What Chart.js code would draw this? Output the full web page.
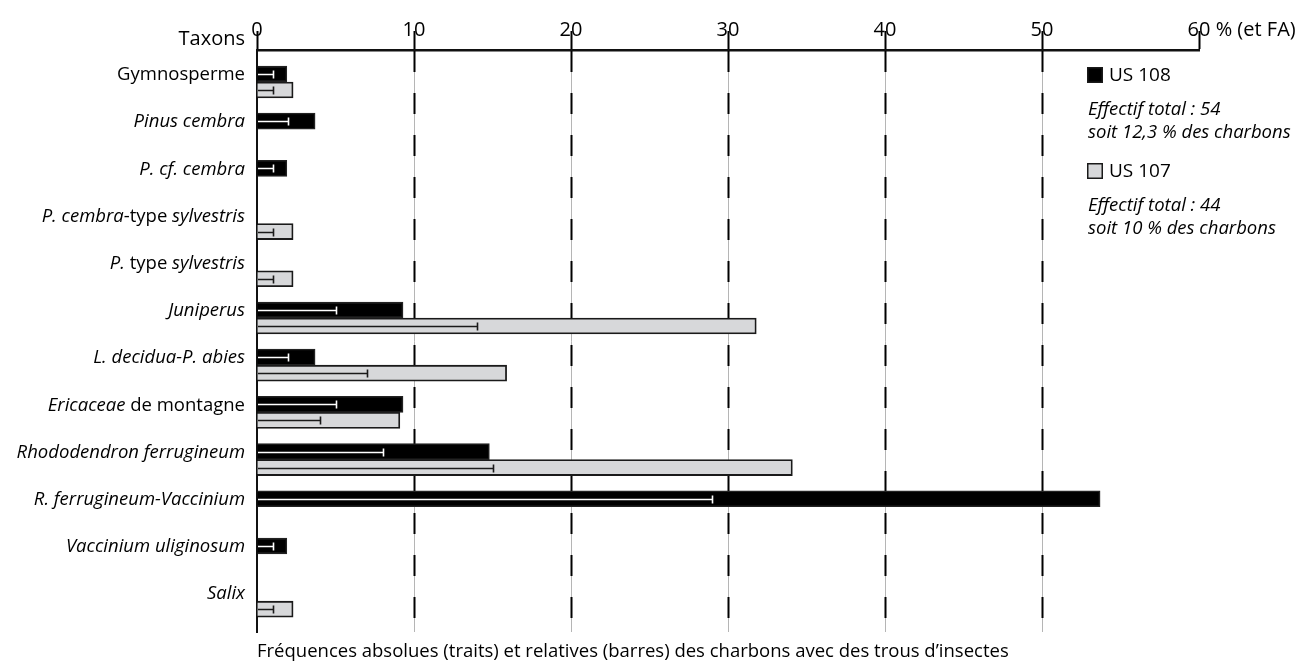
<!DOCTYPE html>
<html>
<head>
<meta charset="utf-8">
<script src="https://cdn.jsdelivr.net/npm/chart.js@4.4.1/dist/chart.umd.min.js"></script>
<style>
html,body{margin:0;padding:0;background:#fff;}
#wrap{width:1306px;height:666px;position:relative;}
</style>
</head>
<body>
<div id="wrap"><canvas id="chart"></canvas></div>
<script>
// ---- data ----
const categories = [
  'Gymnosperme',
  '_Pinus cembra_',
  '_P. cf. cembra_',
  '_P. cembra_-type _sylvestris_',
  '_P._ type _sylvestris_',
  '_Juniperus_',
  '_L. decidua-P. abies_',
  '_Ericaceae_ de montagne',
  '_Rhododendron ferrugineum_',
  '_R. ferrugineum-Vaccinium_',
  '_Vaccinium uliginosum_',
  '_Salix_'
];
const seriesNames = ['US 108', 'US 107'];
const seriesNotes = [
  ['Effectif total : 54', 'soit 12,3 % des charbons'],
  ['Effectif total : 44', 'soit 10 % des charbons']
];
// relative frequencies (bars, %)
const us108Pct = [1.9, 3.7, 1.9, null, null, 9.3, 3.7, 9.3, 14.8, 53.7, 1.9, null];
const us107Pct = [2.3, null, null, 2.3, 2.3, 31.8, 15.9, 9.1, 34.1, null, null, 2.3];
// absolute frequencies (traits, counts)
const us108Count = [1, 2, 1, null, null, 5, 2, 5, 8, 29, 1, null];
const us107Count = [1, null, null, 1, 1, 14, 7, 4, 15, null, null, 1];
const xTickSuffix = ' % (et FA)';
const axisCornerLabel = 'Taxons';
const caption = 'Fréquences absolues (traits) et relatives (barres) des charbons avec des trous d’insectes';

// ---- styling ----
const FONT = '"Open Sans", "DejaVu Sans", sans-serif';
const seriesFill = ['#000000', '#d7d8da'];
const seriesBorder = ['#222222', '#1a1a1a'];
const traitColor = ['#ffffff', '#1a1a1a'];
const counts = [us108Count, us107Count];

Chart.defaults.font.family = FONT;
Chart.defaults.color = '#000';

function toPoints(arr) { return arr.map((v, i) => ({ x: v, y: i })); }

function drawRich(ctx, markup, xRight, y, size) {
  const parts = markup.split('_');
  const segs = parts.map((t, k) => ({ t, font: (k % 2 ? 'italic ' : '') + size + 'px ' + FONT }));
  let total = 0;
  segs.forEach(s => { ctx.font = s.font; s.w = ctx.measureText(s.t).width; total += s.w; });
  let x = xRight - total;
  ctx.textAlign = 'left';
  segs.forEach(s => { ctx.font = s.font; ctx.fillText(s.t, x, y); x += s.w; });
}

const overlay = {
  id: 'overlay',
  beforeDatasetsDraw(chart) {
    const { ctx, chartArea: a, scales: { x } } = chart;
    ctx.save();
    ctx.strokeStyle = '#000';
    ctx.lineWidth = 2;
    ctx.setLineDash([21, 21]);
    x.ticks.forEach(t => {
      if (t.value <= x.min || t.value >= x.max) return;
      const px = Math.round(x.getPixelForValue(t.value)) + 0.5;
      ctx.beginPath();
      ctx.moveTo(px, a.top + 1);
      ctx.lineTo(px, a.bottom);
      ctx.stroke();
    });
    ctx.restore();
  },
  afterDatasetsDraw(chart) {
    const { ctx, scales: { x } } = chart;
    ctx.save();
    counts.forEach((arr, d) => {
      const meta = chart.getDatasetMeta(d);
      ctx.strokeStyle = traitColor[d];
      ctx.lineWidth = 1.6;
      arr.forEach((c, i) => {
        if (c == null) return;
        const bar = meta.data[i];
        const y = Math.round(bar.y) + 0.5;
        const x0 = x.getPixelForValue(0) + 1;
        const x1 = Math.round(x.getPixelForValue(c)) + 0.5;
        ctx.beginPath();
        ctx.moveTo(x0, y); ctx.lineTo(x1, y);
        ctx.moveTo(x1, y - 4); ctx.lineTo(x1, y + 4);
        ctx.stroke();
      });
    });
    ctx.restore();
  },
  afterDraw(chart) {
    const { ctx, chartArea: a, scales: { x, y } } = chart;
    ctx.save();
    ctx.fillStyle = '#000';
    ctx.textBaseline = 'middle';
    categories.forEach((c, i) => {
      drawRich(ctx, c, a.left - 12, y.getPixelForValue(i) - 7, 18.5);
    });
    ctx.font = '20px ' + FONT;
    ctx.textAlign = 'right';
    ctx.fillText(axisCornerLabel, a.left - 12, 39);
    const last = x.ticks[x.ticks.length - 1];
    const lastPx = x.getPixelForValue(last.value);
    ctx.font = '20px ' + FONT;
    const lw = ctx.measureText(String(last.value)).width;
    ctx.textAlign = 'left';
    ctx.fillText(xTickSuffix, lastPx + lw / 2, 30);
    ctx.font = '18.5px ' + FONT;
    ctx.fillText(caption, a.left, 652);
    const lx = 1087;
    const ly = [67, 163];
    seriesNames.forEach((n, d) => {
      ctx.fillStyle = seriesFill[d];
      ctx.fillRect(lx, ly[d], 16, 16);
      ctx.strokeStyle = '#1a1a1a';
      ctx.lineWidth = 1.5;
      ctx.strokeRect(lx + 0.75, ly[d] + 0.75, 14.5, 14.5);
      ctx.fillStyle = '#000';
      ctx.font = '19px ' + FONT;
      ctx.textAlign = 'left';
      ctx.fillText(n, lx + 22, ly[d] + 9);
      ctx.font = 'italic 18.5px ' + FONT;
      seriesNotes[d].forEach((t, k) => ctx.fillText(t, lx + 1, ly[d] + 43 + k * 23));
    });
    ctx.restore();
  }
};

new Chart(document.getElementById('chart'), {
  type: 'bar',
  data: {
    datasets: [
      { label: seriesNames[0], data: toPoints(us108Pct), backgroundColor: seriesFill[0], borderColor: seriesBorder[0], borderWidth: 1.5, barThickness: 16 },
      { label: seriesNames[1], data: toPoints(us107Pct), backgroundColor: seriesFill[1], borderColor: seriesBorder[1], borderWidth: 1.8, barThickness: 16 }
    ]
  },
  options: {
    indexAxis: 'y',
    responsive: true,
    maintainAspectRatio: false,
    animation: false,
    layout: { padding: { left: 257, right: 107, top: 0, bottom: 34 } },
    plugins: { legend: { display: false }, title: { display: false }, tooltip: { enabled: false } },
    scales: {
      x: {
        type: 'linear',
        position: 'top',
        min: 0, max: 60,
        ticks: { stepSize: 10, padding: -11, font: { size: 20 }, color: '#000', maxRotation: 0 },
        grid: {
          color: c => (c.tick && c.tick.value > 0 && c.tick.value < 60) ? '#b5b5b5' : 'rgba(0,0,0,0)',
          lineWidth: 1,
          drawTicks: true,
          tickLength: 19,
          tickColor: '#000',
          tickWidth: 2
        },
        border: { display: true, color: '#111', width: 2.5 },
        afterFit(s) { s.height = 50; }
      },
      y: {
        type: 'linear',
        reverse: true,
        offset: false,
        bounds: 'data',
        min: -0.678, max: 11.653,
        ticks: { display: false },
        grid: { display: false, drawTicks: false, offset: false },
        border: { display: true, color: '#111', width: 2 },
        afterFit(s) { s.width = 0; }
      }
    }
  },
  plugins: [overlay]
});
</script>
</body>
</html>
